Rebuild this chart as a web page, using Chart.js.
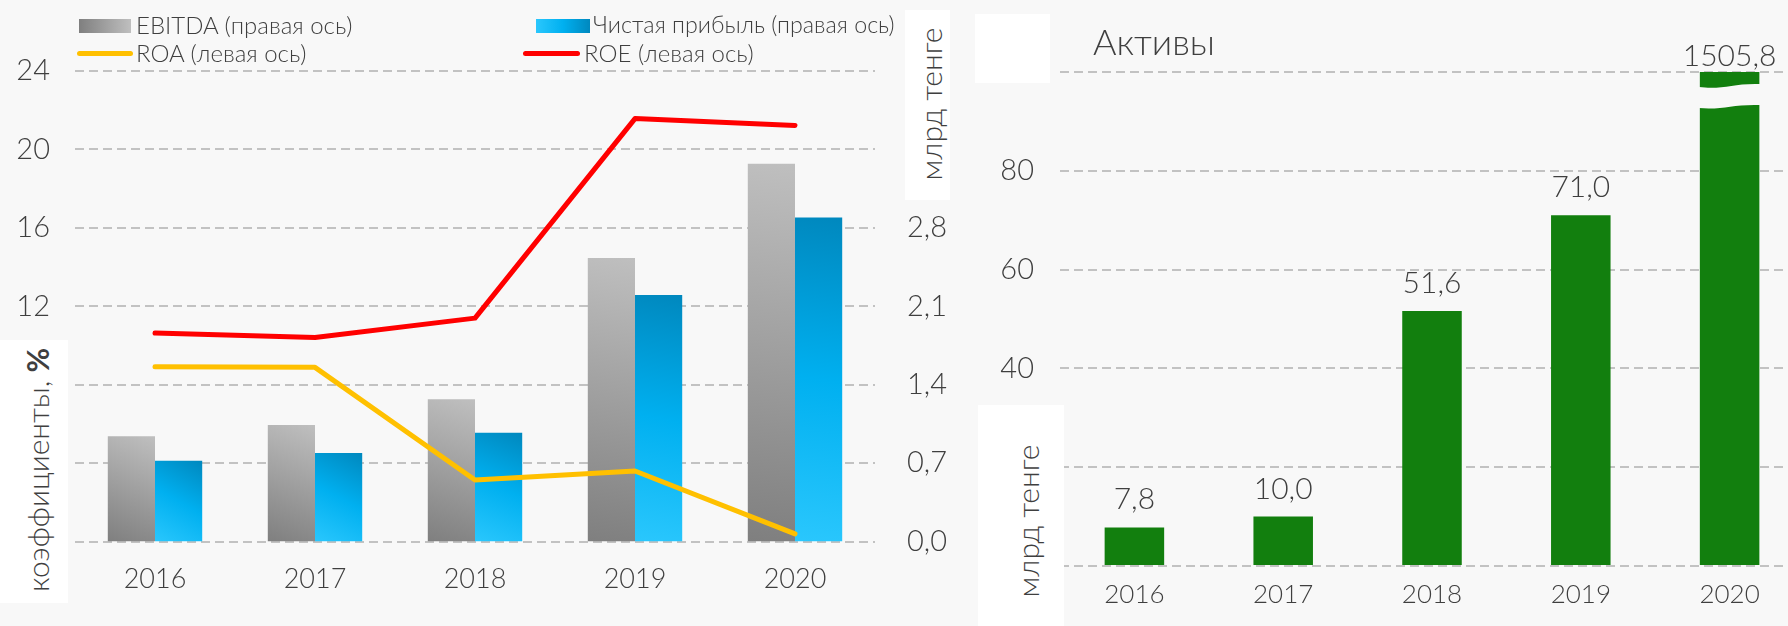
<!DOCTYPE html>
<html>
<head>
<meta charset="utf-8">
<script src="https://cdn.jsdelivr.net/npm/chart.js@4.4.1/dist/chart.umd.min.js"></script>
<style>
  body { margin: 0; width: 1788px; height: 626px; overflow: hidden; background: #f8f8f8; position: relative; font-family: Lato, "Open Sans", sans-serif; font-weight: 300; color: #3f3f3f; }
  .box { position: absolute; }
  .sw { position: absolute; }
  .lg { position: absolute; font-size: 24px; line-height: 1; white-space: nowrap; transform: translateY(-50%); }
  .white { position: absolute; background: #ffffff; }
  .rot { position: absolute; white-space: nowrap; line-height: 1; transform: translate(-50%, -50%) rotate(-90deg); }
</style>
</head>
<body>
<div class="box" style="left:0;top:0;width:960px;height:626px"><canvas id="profit"></canvas></div>
<div class="box" style="left:960px;top:0;width:850px;height:626px"><canvas id="assets"></canvas></div>

<div class="sw" style="left:79px;top:19px;width:52px;height:14px;background:linear-gradient(to right,#7f7f7f,#bfbfbf)"></div>
<div class="lg" style="left:136px;top:25px">EBITDA (правая ось)</div>
<div class="sw" style="left:536px;top:19px;width:54px;height:14px;background:linear-gradient(to right,#2ac7fd,#00b0f0 50%,#0088be)"></div>
<div class="lg" style="left:593px;top:25px;font-size:23.3px">Чистая прибыль (правая ось)</div>
<div class="sw" style="left:77px;top:51px;width:56px;height:5px;border-radius:3px;background:#ffc000"></div>
<div class="lg" style="left:136px;top:53px">ROA (левая ось)</div>
<div class="sw" style="left:523px;top:51px;width:57px;height:5px;border-radius:3px;background:#ff0000"></div>
<div class="lg" style="left:584px;top:53px">ROE (левая ось)</div>

<div class="white" style="left:0;top:340px;width:68px;height:263px"></div>
<div class="rot" style="left:37px;top:470px;font-size:30px">коэффициенты, <b style="font-weight:700">%</b></div>
<div class="white" style="left:905px;top:10px;width:45px;height:190px"></div>
<div class="rot" style="left:930px;top:104px;font-size:30px">млрд тенге</div>

<div class="white" style="left:975px;top:14px;width:75px;height:69px"></div>
<div style="position:absolute;left:1093px;top:41px;font-size:36px;line-height:1;transform:translateY(-50%)">Активы</div>
<div class="white" style="left:978px;top:405px;width:86px;height:221px"></div>
<div class="rot" style="left:1027px;top:521px;font-size:30px">млрд тенге</div>

<script>
const years = ["2016", "2017", "2018", "2019", "2020"]
const ebitda = [0.94, 1.04, 1.27, 2.53, 3.37]
const netProfit = [0.72, 0.79, 0.97, 2.2, 2.89]
const roa = [8.91, 8.88, 3.14, 3.6, 0.39]
const roe = [10.63, 10.4, 11.39, 21.56, 21.21]
const leftTicks = { min: 0, max: 24, step: 4 }
const rightTicks = { min: 0, max: 4.2, step: 0.7 }
const assets = [7.8, 10.0, 51.6, 71.0, 1505.8]
const assetTicks = { min: 0, max: 100, step: 20 }

const TEXT = "#3f3f3f"
const GRID = "#c2c2c2"
const BG = "#f8f8f8"
const FAMILY = "Lato, 'Open Sans', sans-serif"

const fmt = (v) => v.toFixed(1).replace(".", ",")

// gradient for each bar, from its bottom-left corner to its top-right one
const barGradient = (stops, side) => (ctx) => {
  const chart = ctx.chart
  if (!chart.chartArea || ctx.type !== "data") return stops[1]
  const x = chart.scales.x
  const y = chart.scales.yR
  const w = (x.width / years.length) * 0.59 / 2
  const cx = x.getPixelForValue(ctx.dataIndex)
  const left = side === 0 ? cx - w : cx
  const top = y.getPixelForValue(ctx.raw)
  const base = y.getPixelForValue(0)
  const g = chart.ctx.createLinearGradient(left, base, left + w, top)
  g.addColorStop(0, stops[0])
  g.addColorStop(0.5, stops[1])
  g.addColorStop(1, stops[2])
  return g
}

new Chart(document.getElementById("profit"), {
  data: {
    labels: years,
    datasets: [
      {
        type: "line", label: "ROA (левая ось)", data: roa, yAxisID: "yL", order: 0,
        borderColor: "#ffc000", borderWidth: 5, pointRadius: 0,
        borderCapStyle: "round", borderJoinStyle: "round",
      },
      {
        type: "line", label: "ROE (левая ось)", data: roe, yAxisID: "yL", order: 0,
        borderColor: "#ff0000", borderWidth: 5, pointRadius: 0,
        borderCapStyle: "round", borderJoinStyle: "round",
      },
      {
        type: "bar", label: "EBITDA (правая ось)", data: ebitda, yAxisID: "yR", order: 1,
        backgroundColor: barGradient(["#7f7f7f", "#9f9f9f", "#bfbfbf"], 0),
        categoryPercentage: 0.59, barPercentage: 1,
      },
      {
        type: "bar", label: "Чистая прибыль (правая ось)", data: netProfit, yAxisID: "yR", order: 1,
        backgroundColor: barGradient(["#2ac7fd", "#00b0f0", "#0088be"], 1),
        categoryPercentage: 0.59, barPercentage: 1,
      },
    ],
  },
  options: {
    responsive: true,
    maintainAspectRatio: false,
    animation: false,
    layout: { padding: { top: 70.7, left: 0, right: 0, bottom: 0 } },
    plugins: { legend: { display: false }, tooltip: { enabled: false } },
    scales: {
      x: {
        grid: { display: false, drawTicks: false },
        border: { display: false },
        ticks: { color: TEXT, font: { family: FAMILY, size: 27, weight: 300 }, padding: 21, maxRotation: 0 },
        afterFit: (s) => { s.height = 84.4 },
      },
      yL: {
        position: "left",
        min: leftTicks.min, max: leftTicks.max,
        ticks: { stepSize: leftTicks.step, color: TEXT, font: { family: FAMILY, size: 29, weight: 300 }, padding: 25 },
        grid: { color: GRID, lineWidth: 2, drawTicks: false },
        border: { display: false, dash: [9, 5] },
        afterFit: (s) => { s.width = 75 },
      },
      yR: {
        position: "right",
        min: rightTicks.min, max: rightTicks.max,
        ticks: { stepSize: rightTicks.step, color: TEXT, font: { family: FAMILY, size: 29, weight: 300 }, padding: 32, callback: (v) => fmt(v) },
        grid: { display: false, drawTicks: false },
        border: { display: false },
        afterFit: (s) => { s.width = 85 },
      },
    },
  },
})

// white gap across the 2020 bar, which is far beyond the axis
const breakMark = {
  id: "breakMark",
  afterDatasetsDraw(chart) {
    const area = chart.chartArea
    const ctx = chart.ctx
    chart.getDatasetMeta(0).data.forEach((bar) => {
      if (bar.y >= area.top) return
      const l = bar.x - bar.width / 2 - 1
      const r = bar.x + bar.width / 2 + 1
      const w = r - l
      const t = area.top + 15
      const b = area.top + 36
      ctx.save()
      ctx.fillStyle = BG
      ctx.beginPath()
      ctx.moveTo(l, t)
      ctx.bezierCurveTo(l + w * 0.4, t + 3, l + w * 0.55, t - 4, r, t - 3)
      ctx.lineTo(r, b - 3)
      ctx.bezierCurveTo(l + w * 0.55, b - 4, l + w * 0.4, b + 2, l, b)
      ctx.closePath()
      ctx.fill()
      ctx.restore()
    })
  },
}

const valueLabels = {
  id: "valueLabels",
  afterDatasetsDraw(chart) {
    const area = chart.chartArea
    const ctx = chart.ctx
    ctx.save()
    ctx.font = "300 30px " + FAMILY
    ctx.fillStyle = TEXT
    ctx.textAlign = "center"
    ctx.textBaseline = "alphabetic"
    chart.getDatasetMeta(0).data.forEach((bar, i) => {
      const y = bar.y < area.top ? area.top - 6 : bar.y - 18
      ctx.fillText(fmt(assets[i]), bar.x, y)
    })
    ctx.restore()
  },
}

new Chart(document.getElementById("assets"), {
  type: "bar",
  data: {
    labels: years,
    datasets: [
      { label: "Активы", data: assets, backgroundColor: "#127f0e", categoryPercentage: 1, barPercentage: 0.4, clip: 0 },
    ],
  },
  options: {
    responsive: true,
    maintainAspectRatio: false,
    animation: false,
    layout: { padding: { top: 72, left: 0, right: 6, bottom: 0 } },
    plugins: { legend: { display: false }, tooltip: { enabled: false } },
    scales: {
      x: {
        grid: { display: false, drawTicks: false },
        border: { display: false },
        ticks: { color: TEXT, font: { family: FAMILY, size: 26, weight: 300 }, padding: 13, maxRotation: 0 },
        afterFit: (s) => { s.height = 60 },
      },
      y: {
        min: assetTicks.min, max: assetTicks.max,
        ticks: { stepSize: assetTicks.step, color: TEXT, font: { family: FAMILY, size: 29, weight: 300 }, padding: 26 },
        grid: { color: GRID, lineWidth: 2, drawTicks: false },
        border: { display: false, dash: [9, 5] },
        afterFit: (s) => { s.width = 100 },
      },
    },
  },
  plugins: [breakMark, valueLabels],
})
</script>
</body>
</html>
